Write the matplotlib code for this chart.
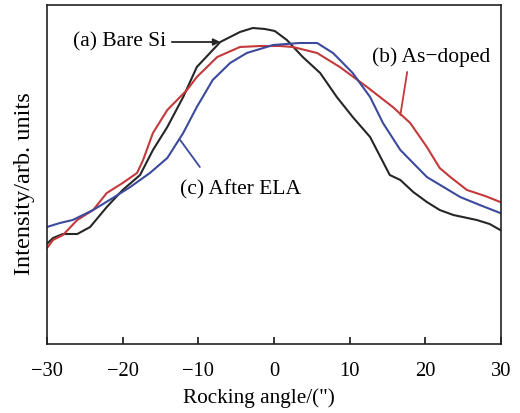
import matplotlib
matplotlib.use("Agg")
import matplotlib.pyplot as plt

plt.rcParams['font.family'] = ['Liberation Serif', 'DejaVu Serif']

# Rocking curves (angle in arcsec, intensity in arbitrary units)
angle_a = [-29.9, -29.2, -27.9, -26.0, -24.3, -22.1, -20.0, -17.7, -16.0, -14.1, -12.0,
           -10.2, -7.1, -4.5, -2.8, -1.2, 0.1, 1.7, 3.8, 6.1, 8.3, 10.4, 12.7, 15.3,
           16.7, 18.4, 20.2, 21.9, 23.7, 26.8, 28.5, 29.9]
inten_a = [101, 106, 110, 110, 117, 137, 154, 169, 194, 217, 247,
           277, 302, 312, 316, 315, 313, 304, 287, 271, 247, 227, 207, 169,
           164, 152, 142, 134, 129, 124, 120, 114]

angle_b = [-30.0, -29.2, -27.9, -26.0, -23.9, -22.1, -20.0, -18.1, -17.3, -16.0, -14.1,
           -11.5, -10.2, -7.5, -4.5, -1.8, 0.8, 2.5, 5.7, 8.7, 12.3, 15.7, 18.0,
           20.2, 21.9, 23.3, 25.5, 27.9, 29.9]
inten_b = [96, 104, 109, 124, 134, 151, 161, 171, 184, 211, 234,
           254, 267, 287, 297, 298, 298, 297, 291, 277, 257, 237, 221,
           197, 176, 167, 154, 148, 142]

angle_c = [-30.0, -28.3, -26.6, -23.9, -21.3, -19.0, -16.4, -14.1, -12.0, -10.2, -8.1,
           -5.8, -3.6, -0.1, 3.4, 5.7, 7.8, 10.4, 12.7, 14.4, 16.7, 20.2, 24.6,
           27.2, 29.9]
inten_c = [117, 121, 124, 134, 146, 157, 171, 186, 211, 237, 264,
           281, 291, 299, 301, 301, 291, 271, 247, 221, 194, 167, 147,
           139, 131]

x_ticks = [-30, -20, -10, 0, 10, 20, 30]
x_tick_labels = ['\u221230', '\u221220', '\u221210', '0', '10', '20', '30']

col_a = '#262626'
col_b = '#c4393b'
col_c = '#3b4a9c'

W, H = 520, 413
fig = plt.figure(figsize=(W / 100, H / 100), dpi=100)
ax = fig.add_axes([47 / W, 69 / H, 454 / W, 339 / H])

ax.plot(angle_a, inten_a, color=col_a, lw=1.5)
ax.plot(angle_b, inten_b, color=col_b, lw=1.5)
ax.plot(angle_c, inten_c, color=col_c, lw=1.5)

ax.set_xlim(-30, 30)
ax.set_ylim(0, 339)
ax.set_xticks(x_ticks)
ax.set_xticklabels(x_tick_labels)
ax.set_yticks([])
ax.tick_params(axis='x', direction='in', length=5, width=1.1, labelsize=14.8, pad=13)
for s in ax.spines.values():
    s.set_linewidth(1.2)
    s.set_color('#222222')

fig.text(259 / W, 1 - 398 / H, 'Rocking angle/(")', fontsize=15.3,
         ha='center', va='center')
fig.text(25 / W, 1 - 184 / H, 'Intensity/arb. units', fontsize=17.5,
         rotation=90, ha='center', va='center')

# Curve labels with pointers
lab_fs = 15.5
ax.text(-26.5, 302, '(a) Bare Si', fontsize=lab_fs, va='center', ha='left')
ax.annotate('', xy=(-7.1, 302), xytext=(-13.5, 302),
            arrowprops=dict(arrowstyle='-|>', color=col_a, lw=1.3,
                            shrinkA=0, shrinkB=0, mutation_scale=10))
ax.text(13.0, 287, '(b) As\u2212doped', fontsize=lab_fs, va='center', ha='left')
ax.annotate('', xy=(16.7, 229), xytext=(17.6, 272),
            arrowprops=dict(arrowstyle='-', color=col_b, lw=1.3,
                            shrinkA=0, shrinkB=0))
ax.text(-12.4, 154, '(c) After ELA', fontsize=lab_fs, va='center', ha='left')
ax.annotate('', xy=(-9.8, 177), xytext=(-12.4, 204),
            arrowprops=dict(arrowstyle='-', color=col_c, lw=1.3,
                            shrinkA=0, shrinkB=0))

fig.savefig('out.png', dpi=100)
